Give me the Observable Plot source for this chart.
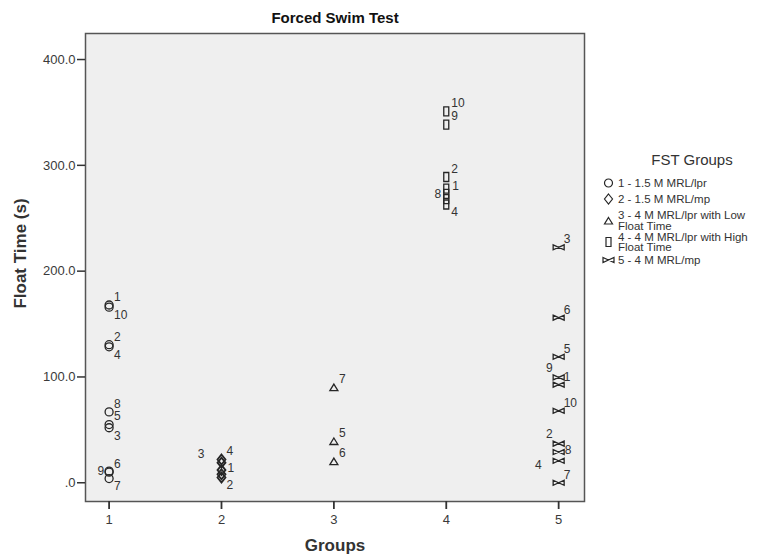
<!DOCTYPE html>
<html>
<head>
<meta charset="utf-8">
<script src="https://cdn.jsdelivr.net/npm/d3@7"></script>
<script src="https://cdn.jsdelivr.net/npm/@observablehq/plot@0.6"></script>
<style>
  body { margin: 0; background: #fff; font-family: "Liberation Sans", Arial, sans-serif; }
  #wrap { position: relative; width: 770px; height: 554px; overflow: hidden; }
  #chart { position: absolute; left: 0; top: 0; }
  #legend { position: absolute; left: 600px; top: 0; width: 170px; height: 554px; color: #333; }
  .lg-title { position: absolute; left: 0; width: 184px; text-align: center; font-size: 15px; top: 151px; line-height: 18px; }
  .lg-item { position: absolute; left: 2px; display: flex; align-items: center; font-size: 11.5px; line-height: 10.5px; }
  .lg-item svg { flex: none; margin-right: 3px; }
  .lg-text { width: 150px; }
</style>
</head>
<body>
<div id="wrap"><div id="chart"></div><div id="legend"></div></div>
<script>
// ---- data ----
const legendTitle = "FST Groups";
const groupNames = [
  "1 - 1.5 M MRL/lpr",
  "2 - 1.5 M MRL/mp",
  "3 - 4 M MRL/lpr with Low Float Time",
  "4 - 4 M MRL/lpr with High Float Time",
  "5 - 4 M MRL/mp"
];
const xTicks = [1, 2, 3, 4, 5];
const yTicks = [0, 100, 200, 300, 400];
const group     = [1,1,1,1,1,1,1,1,1,1, 2,2,2,2,2, 3,3,3, 4,4,4,4,4,4,4, 5,5,5,5,5,5,5,5,5,5];
const caseId    = [1,10,2,4,8,5,3,9,6,7, 4,3,1,null,2, 7,5,6, 10,9,2,1,8,3,4, 3,6,5,9,1,10,2,8,4,7];
const floatTime = [168,166,130.5,128.5,67,55,52,11,10,4, 22,19,12,8,5, 90,39,20, 351,338.5,289,278,273,268,263, 222.5,156,119,99.6,92.7,68,37,29,20.8,0];
const labelSide = ["ne","se","ne","se","ne","ne","se","w","ne","se",
                   "ne","fnw","e","none","se",
                   "ne","ne","ne",
                   "ne","ne","ne","e","w","none","se",
                   "ne","ne","ne","nw","ne","ne","nw","e","fw","ne"];

// ---- styles ----
const sym = {
  circle:   {draw(c){ c.moveTo(4,0); c.arc(0,0,4,0,2*Math.PI); }},
  diamond:  {draw(c){ c.moveTo(0,-5); c.lineTo(4,0); c.lineTo(0,5); c.lineTo(-4,0); c.closePath(); }},
  triangle: {draw(c){ c.moveTo(0,-3.5); c.lineTo(4,3); c.lineTo(-4,3); c.closePath(); }},
  rect:     {draw(c){ c.rect(-2.5,-4.5,5,9); }},
  bowtie:   {draw(c){ c.moveTo(-5.5,-2.5); c.lineTo(5.5,2.5); c.lineTo(5.5,-2.5); c.lineTo(-5.5,2.5); c.closePath(); }}
};
const groupSymbols = [sym.circle, sym.diamond, sym.triangle, sym.rect, sym.bowtie];
const sideOffsets = {
  ne:  {dx: 5,   dy: -8, textAnchor: "start"},
  se:  {dx: 5,   dy: 8,  textAnchor: "start"},
  e:   {dx: 6,   dy: -2, textAnchor: "start"},
  w:   {dx: -5,  dy: 0,  textAnchor: "end"},
  nw:  {dx: -6,  dy: -9, textAnchor: "end"},
  fw:  {dx: -17, dy: 4,  textAnchor: "end"},
  fnw: {dx: -17, dy: -9, textAnchor: "end"}
};
const ink = "#262626";

const rows = group.map((g, i) => ({group: g, id: caseId[i], value: floatTime[i], side: labelSide[i]}));

const marks = [Plot.frame({fill: "#efefef"})];
xTicks.forEach((g) => {
  marks.push(Plot.dot(rows.filter(d => d.group === g), {
    x: "group", y: "value", symbol: groupSymbols[g - 1], r: 4,
    fill: "none", stroke: ink, strokeWidth: g === 2 ? 1.8 : 1.3
  }));
});
Object.entries(sideOffsets).forEach(([side, o]) => {
  marks.push(Plot.text(rows.filter(d => d.side === side), {
    x: "group", y: "value", text: "id", dx: o.dx, dy: o.dy, textAnchor: o.textAnchor,
    fontSize: 12, fill: "#333"
  }));
});
marks.push(
  Plot.frame({stroke: "#555", strokeWidth: 1.5}),
  Plot.axisY({ticks: yTicks, tickFormat: d => d === 0 ? ".0" : d.toFixed(1), tickSize: 8, tickPadding: 2,
    label: null, stroke: "#333", strokeWidth: 1.5, fill: "#3a3a3a", fontSize: 13}),
  Plot.axisX({ticks: xTicks, tickFormat: d => String(d), tickSize: 8, tickPadding: 5,
    label: null, stroke: "#333", strokeWidth: 1.8, fill: "#3a3a3a", fontSize: 13}),
  Plot.text(["Forced Swim Test"], {frameAnchor: "top", lineAnchor: "middle", textAnchor: "middle", dy: -15,
    fontWeight: "bold", fontSize: 15, fill: "#111"}),
  Plot.text(["Float Time (s)"], {frameAnchor: "left", lineAnchor: "middle", textAnchor: "middle", rotate: -90,
    dx: -65, dy: -14, fontWeight: "bold", fontSize: 17, fill: "#333"}),
  Plot.text(["Groups"], {frameAnchor: "bottom", lineAnchor: "middle", textAnchor: "middle", dy: 44,
    fontWeight: "bold", fontSize: 17, fill: "#333"})
);

const chart = Plot.plot({
  width: 770, height: 554,
  marginLeft: 85, marginRight: 186, marginTop: 33, marginBottom: 53,
  style: {fontFamily: "'Liberation Sans', Arial, sans-serif", fontSize: "12px", background: "#fff", color: "#333"},
  x: {domain: [0.79, 5.23], axis: null},
  y: {domain: [-17.7, 424.6], axis: null},
  marks
});
document.getElementById("chart").appendChild(chart);

// ---- legend ----
const legend = d3.select("#legend");
legend.append("div").attr("class", "lg-title").text(legendTitle);
const itemCenters = [183, 199, 220.5, 242, 260];
groupNames.forEach((name, i) => {
  const item = legend.append("div").attr("class", "lg-item");
  const svg = item.append("svg").attr("width", 13).attr("height", 12);
  const p = d3.path();
  groupSymbols[i].draw(p);
  svg.append("path").attr("d", p.toString()).attr("transform", "translate(6.5,6)")
    .attr("fill", "none").attr("stroke", ink).attr("stroke-width", 1.2);
  item.append("div").attr("class", "lg-text").text(name);
  const h = item.node().getBoundingClientRect().height;
  item.style("top", (itemCenters[i] - h / 2) + "px");
});
</script>
</body>
</html>
